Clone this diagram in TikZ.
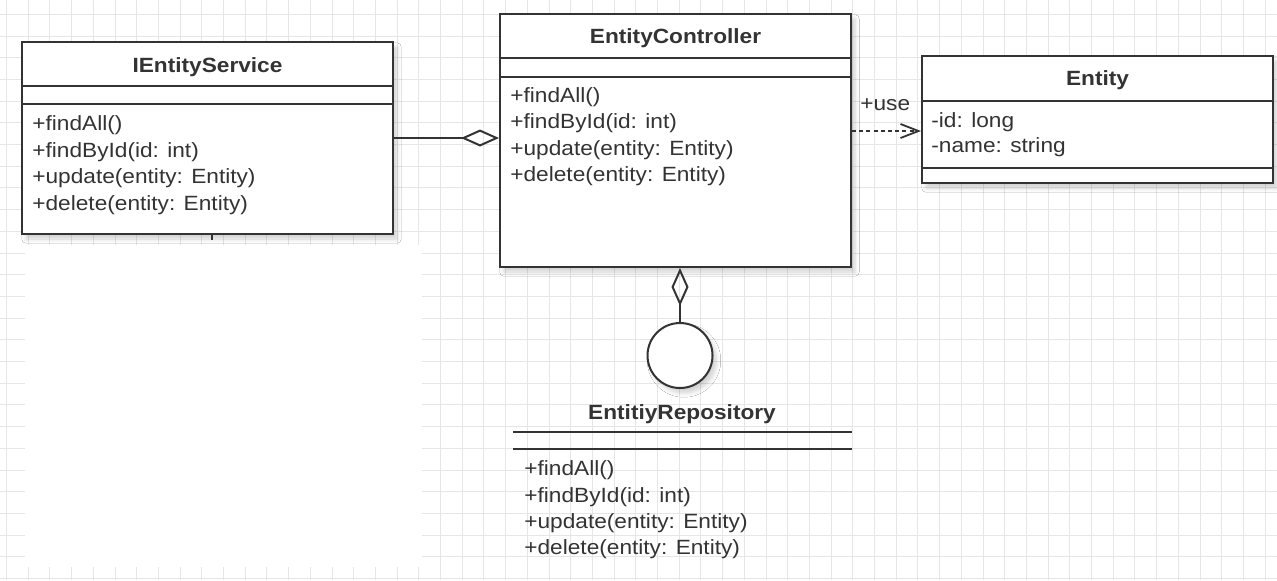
\documentclass[tikz,border=0pt]{standalone}
\usepackage{fontspec}
\setmainfont{Liberation Sans}[FakeStretch=1.1]
\usetikzlibrary{arrows.meta,shadows.blur}
\definecolor{ink}{HTML}{333333}
\definecolor{gridc}{HTML}{E6E6E6}
\tikzset{
  classbox/.style={draw=ink, line width=1pt, fill=white, inner sep=0pt,
    blur shadow={shadow xshift=2pt, shadow yshift=-2.5pt, shadow opacity=18, shadow blur steps=6}},
  sepline/.style={draw=ink, line width=1pt},
  member/.style={anchor=base west, inner sep=0pt, text=ink, font=\fontsize{10.3pt}{12pt}\selectfont},
  title/.style={anchor=base, inner sep=0pt, text=ink, font=\fontsize{10.3pt}{12pt}\selectfont\bfseries},
  aggr/.style={draw=ink, line width=1pt, -{Diamond[open, length=19pt, width=8.5pt, line width=1pt]}},
  depend/.style={draw=ink, line width=0.9pt, dash pattern=on 2pt off 1.6pt,
    -{Straight Barb[length=9pt, width=7pt, line width=0.9pt]}},
  iface/.style={circle, draw=ink, line width=1pt, fill=white, minimum size=32.5pt, inner sep=0pt,
    blur shadow={shadow xshift=2pt, shadow yshift=-2.5pt, shadow opacity=18, shadow blur steps=6}}
}
\begin{document}
\begin{tikzpicture}[x=0.5pt, y=-0.5pt]
\useasboundingbox (0,0) rectangle (1277,580);
\fill[white] (0,0) rectangle (1277,580);
% background grid
\foreach \i in {0,...,58} \draw[gridc, line width=0.5pt] ({6.5+21.7*\i},0) -- ({6.5+21.7*\i},580);
\foreach \j in {0,...,26} \draw[gridc, line width=0.5pt] (0,{14.3+21.7*\j}) -- (1277,{14.3+21.7*\j});
\fill[white] (25,245) rectangle (422,567);

% IEntityService
\node[classbox, minimum width=185.5pt, minimum height=96pt] (svc) at (207.5,138) {};
\draw[sepline] (svc.west |- 0,86) -- (svc.east |- 0,86);
\draw[sepline] (svc.west |- 0,103.5) -- (svc.east |- 0,103.5);
\node[title] (svct) at (207.5,72) {IEntityService};
\node[member] (s1) at (32,130.5) {+findAll()};
\node[member] (s2) at (32,157) {+findById(id: int)};
\node[member] (s3) at (32,183.5) {+update(entity: Entity)};
\node[member] (s4) at (32,210) {+delete(entity: Entity)};
\coordinate (stub) at (212,240);
\draw[ink, line width=1pt] (svc.south -| stub) -- (stub);

% EntityController
\node[classbox, minimum width=175.5pt, minimum height=126.5pt] (ctrl) at (675.5,140.5) {};
\draw[sepline] (ctrl.west |- 0,58) -- (ctrl.east |- 0,58);
\draw[sepline] (ctrl.west |- 0,77) -- (ctrl.east |- 0,77);
\node[title] (ctrlt) at (675.5,43) {EntityController};
\node[member] (c1) at (510,102) {+findAll()};
\node[member] (c2) at (510,128) {+findById(id: int)};
\node[member] (c3) at (510,155) {+update(entity: Entity)};
\node[member] (c4) at (510,181) {+delete(entity: Entity)};

% Entity
\node[classbox, minimum width=175.5pt, minimum height=63.5pt] (ent) at (1097.5,119.5) {};
\draw[sepline] (ent.west |- 0,101) -- (ent.east |- 0,101);
\draw[sepline] (ent.west |- 0,168) -- (ent.east |- 0,168);
\node[title] (entt) at (1097.5,85) {Entity};
\node[member] (e1) at (931,127) {-id: long};
\node[member] (e2) at (931,152) {-name: string};

% EntitiyRepository (interface, lollipop notation)
\node[iface] (rep) at (680,355.5) {};
\node[title] (rept) at (682,419) {EntitiyRepository};
\draw[sepline] (513,432) -- (852,432);
\draw[sepline] (513,449) -- (852,449);
\node[member] (r1) at (524,475) {+findAll()};
\node[member] (r2) at (524,502) {+findById(id: int)};
\node[member] (r3) at (524,528) {+update(entity: Entity)};
\node[member] (r4) at (524,554) {+delete(entity: Entity)};

% relations
\draw[aggr] (svc.east) -- (ctrl.west |- svc.east);
\draw[aggr] (rep.north) -- (ctrl.south -| rep.north);
\coordinate (depy) at (0,131);
\draw[depend] (ctrl.east |- depy) -- (ent.west |- depy);
\node[member] (use) at (860,110) {+use};
\end{tikzpicture}
\end{document}
